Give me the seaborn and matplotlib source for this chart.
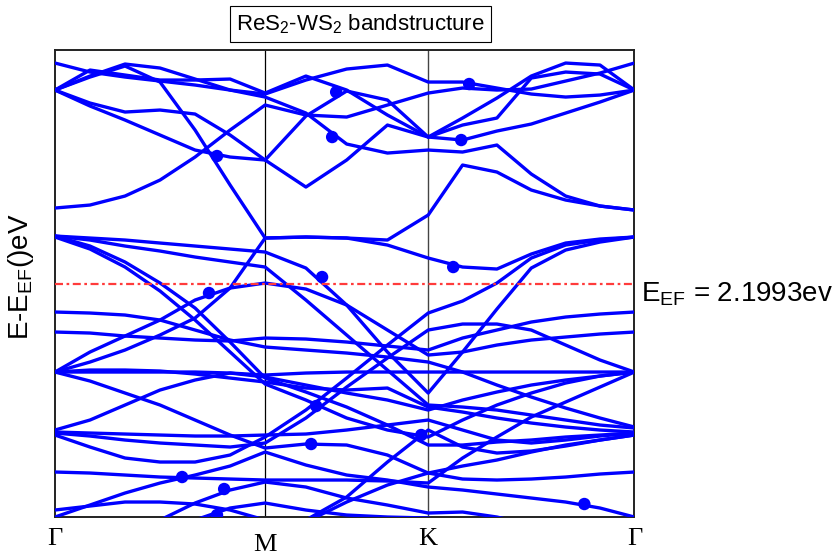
import numpy as np
import pandas as pd
import matplotlib
matplotlib.use("Agg")
import matplotlib.pyplot as plt
import matplotlib.transforms as mtransforms
import seaborn as sns

# ---------------- data ----------------
# high-symmetry points along the path (path length units)
hs_labels = ["Γ", "M", "K", "Γ"]
hs_k = [0.0, 1.0, 1.776, 2.757]
n_seg = [7, 5, 7]  # sampled k-points per segment (incl. ends)

fermi_level = 2.1993  # eV

# band energies E - E_F (eV) at the sampled k-points
B1 = [2.21, 2.12, 2.07, 2.03, 1.99, 1.94, 1.90, 2.04, 2.15, 2.19, 2.02, 2.02, 1.96, 1.90, 1.87, 1.89, 1.94]
B2 = [1.94, 2.14, 2.09, 2.04, 2.04, 2.05, 1.91, 2.08, 1.94, 1.69, 1.47, 1.44, 1.53, 1.60, 1.71, 1.82, 1.94]
B3 = [1.94, 2.08, 2.20, 2.16, 2.05, 1.94, 1.87, 1.71, 1.40, 1.31, 1.34, 1.32, 1.39, 1.10, 0.88, 0.78, 0.74]
B4 = [1.94, 2.07, 2.18, 2.02, 1.54, 0.99, 0.46, 0.47, 0.46, 0.39, 0.26, 0.17, 0.15, 0.30, 0.41, 0.45, 0.47]
B5 = [1.94, 1.78, 1.64, 1.49, 1.34, 1.27, 1.24, 1.68, 1.93, 1.84, 1.47, 1.59, 1.66, 2.06, 2.12, 2.10, 1.94]
B6 = [1.94, 1.81, 1.72, 1.74, 1.70, 1.49, 1.24, 0.97, 1.24, 1.59, 1.47, 1.66, 1.86, 2.08, 2.21, 2.19, 1.94]
B7 = [0.76, 0.79, 0.88, 1.04, 1.27, 1.54, 1.79, 1.69, 1.67, 1.79, 1.91, 1.96, 1.94, 1.95, 2.03, 2.11, 2.21]
B8 = [-0.88, -0.78, -0.66, -0.51, -0.34, -0.04, 0.46, 0.47, 0.46, 0.44, 0.69, 1.19, 1.12, 0.94, 0.84, 0.78, 0.74]
B9 = [0.48, 0.46, 0.44, 0.41, 0.38, 0.35, 0.32, 0.16, -0.21, -0.68, -1.09, -0.68, -0.25, 0.16, 0.34, 0.42, 0.47]
B10 = [0.48, 0.44, 0.38, 0.33, 0.27, 0.22, 0.17, -0.16, -0.51, -0.86, -1.21, -1.23, -1.26, -1.31, -1.36, -1.41, -1.44]
B11 = [-0.88, -0.68, -0.52, -0.36, -0.16, -0.04, 0.01, -0.05, -0.21, -0.46, -0.71, -0.68, -0.61, -0.56, -0.53, -0.50, -0.48]
B12 = [-0.88, -0.88, -0.88, -0.88, -0.88, -0.89, -0.91, -0.89, -0.88, -0.88, -0.88, -0.88, -0.88, -0.88, -0.88, -0.88, -0.88]
B13 = [-1.51, -1.63, -1.74, -1.78, -1.78, -1.71, -1.53, -1.26, -0.94, -0.61, -0.29, -0.17, 0.01, 0.26, 0.39, 0.44, 0.47]
B14 = [-1.49, -1.52, -1.56, -1.59, -1.61, -1.63, -1.59, -1.34, -1.03, -0.74, -0.46, -0.40, -0.40, -0.46, -0.61, -0.76, -0.88]
B15 = [-0.48, -0.49, -0.52, -0.54, -0.56, -0.57, -0.54, -0.55, -0.58, -0.62, -0.66, -0.54, -0.46, -0.38, -0.33, -0.30, -0.28]
B16 = [-0.28, -0.29, -0.31, -0.36, -0.46, -0.56, -0.63, -0.66, -0.69, -0.73, -0.78, -0.88, -1.01, -1.13, -1.24, -1.34, -1.43]
B17 = [-1.46, -1.36, -1.21, -1.06, -0.96, -0.89, -0.93, -1.01, -1.09, -1.16, -1.26, -1.16, -1.08, -1.01, -0.96, -0.92, -0.88]
B18 = [-0.88, -0.86, -0.86, -0.87, -0.90, -0.94, -0.98, -1.04, -1.06, -1.04, -1.23, -1.28, -1.34, -1.39, -1.43, -1.46, -1.48]
B19 = [0.47, 0.35, 0.17, -0.07, -0.36, -0.68, -1.00, -1.16, -1.34, -1.46, -1.53, -1.36, -1.21, -1.09, -0.99, -0.92, -0.88]
B20 = [-1.48, -1.49, -1.50, -1.51, -1.52, -1.52, -1.51, -1.50, -1.46, -1.41, -1.36, -1.46, -1.56, -1.59, -1.56, -1.52, -1.49]
B21 = [-0.88, -0.97, -1.09, -1.21, -1.36, -1.51, -1.64, -1.60, -1.61, -1.71, -1.89, -1.82, -1.76, -1.68, -1.61, -1.56, -1.51]
B22 = [-1.88, -1.89, -1.91, -1.93, -1.94, -1.95, -1.96, -1.96, -1.96, -1.97, -1.99, -1.74, -1.53, -1.33, -1.18, -1.03, -0.88]
B23 = [-2.61, -2.54, -2.46, -2.36, -2.19, -2.06, -1.98, -2.03, -2.14, -2.21, -2.29, -2.28, -2.33, -2.41, -2.51, -2.61, -2.71]
B24 = [-2.76, -2.66, -2.56, -2.46, -2.36, -2.24, -2.19, -2.26, -2.31, -2.33, -2.34, -2.41, -2.51, -2.61, -2.71, -2.81, -2.91]
B25 = [-2.26, -2.22, -2.18, -2.18, -2.20, -2.26, -2.36, -2.36, -2.13, -1.78, -1.46, -1.63, -1.69, -1.67, -1.62, -1.56, -1.51]
B26 = [-2.33, -2.21, -2.09, -1.99, -1.91, -1.82, -1.68, -1.81, -1.91, -1.96, -2.03, -2.06, -2.10, -2.14, -2.18, -2.24, -2.33]
B27 = [0.48, 0.38, 0.22, 0.01, -0.24, -0.58, -0.94, -1.08, -1.23, -1.41, -1.61, -1.61, -1.58, -1.56, -1.53, -1.51, -1.49]
B28 = [-2.96, -2.91, -2.86, -2.81, -2.76, -2.71, -2.66, -2.38, -2.18, -2.01, -1.89, -1.95, -1.96, -1.95, -1.93, -1.90, -1.88]

bands = [B1, B2, B3, B4, B5, B6, B7, B8, B9, B10, B11, B12, B13, B14,
         B15, B16, B17, B18, B19, B20, B21, B22, B23, B24, B25, B26, B27, B28]

# highlighted states (k, E - E_F)
dot_k = [0.771, 1.338, 1.319, 1.971, 1.933, 1.895, 1.271, 0.733,
         1.243, 1.219, 1.743, 0.605, 0.805, 0.771, 2.519]
dot_E = [1.28, 1.92, 1.47, 2.00, 1.44, 0.17, 0.07, -0.09,
         -1.22, -1.60, -1.51, -1.93, -2.05, -2.31, -2.20]

# ---------------- k grid ----------------
k_grid = np.concatenate([
    np.linspace(hs_k[0], hs_k[1], n_seg[0]),
    np.linspace(hs_k[1], hs_k[2], n_seg[1])[1:],
    np.linspace(hs_k[2], hs_k[3], n_seg[2])[1:],
])

rows = []
for bi, b in enumerate(bands):
    for kk, e in zip(k_grid, b):
        rows.append({"band": bi, "k": kk, "E": e})
df = pd.DataFrame(rows)
dots = pd.DataFrame({"k": dot_k, "E": dot_E})

# ---------------- style ----------------
sns.set_style("white")
plt.rcParams["font.family"] = ["Liberation Sans", "DejaVu Sans"]
plt.rcParams["mathtext.default"] = "regular"
plt.rcParams["text.color"] = "black"
plt.rcParams["xtick.color"] = "black"

fig = plt.figure(figsize=(8.38, 5.56), dpi=100)
ax = fig.add_axes([0.0656, 0.0701, 0.6914, 0.8399])

sns.lineplot(data=df, x="k", y="E", units="band", estimator=None, sort=False,
             color="#0000ff", lw=2.4, ax=ax, legend=False, zorder=3)
sns.scatterplot(data=dots, x="k", y="E", color="#0000ff", s=80,
                edgecolor="none", ax=ax, zorder=4, legend=False)

ax.axvline(hs_k[1], color="black", lw=0.9, zorder=2)
ax.axvline(hs_k[2], color="#444444", lw=1.0, zorder=2)
ax.axhline(0.0, color="#ff3b3b", lw=1.6, linestyle=(0, (3.6, 1.6, 1.2, 1.6)), zorder=5)

ax.set_xlim(hs_k[0], hs_k[-1])
ax.set_ylim(-2.33, 2.34)
ax.set_xticks(hs_k)
ax.set_xticklabels(hs_labels, fontfamily="Liberation Serif", fontsize=19, color="black")
ax.set_yticks([])
ax.tick_params(axis="x", length=0, pad=8)
ax.set_xlabel("")
ax.set_ylabel("")
for sp in ax.spines.values():
    sp.set_color("#222222")
    sp.set_linewidth(1.4)

# M label sits slightly lower in the original
mlab = ax.get_xticklabels()[1]
mlab.set_transform(mlab.get_transform() +
                   mtransforms.ScaledTranslation(0, -4 / 72, fig.dpi_scale_trans))

fig.text(21 / 838, 1 - 277 / 556, "E-E$_{EF}$()eV", rotation=90,
         ha="center", va="center", fontsize=20)
fig.text(641 / 838, 1 - 301 / 556, f"E$_{{EF}}$ = {fermi_level:.4f}ev",
         ha="left", va="baseline", fontsize=20)
fig.text(0.43, 1 - 24 / 556, "ReS$_2$-WS$_2$ bandstructure", ha="center",
         va="center", fontsize=16,
         bbox=dict(boxstyle="square,pad=0.28", fc="white", ec="black", lw=0.8))

fig.savefig("out.png", dpi=100)
